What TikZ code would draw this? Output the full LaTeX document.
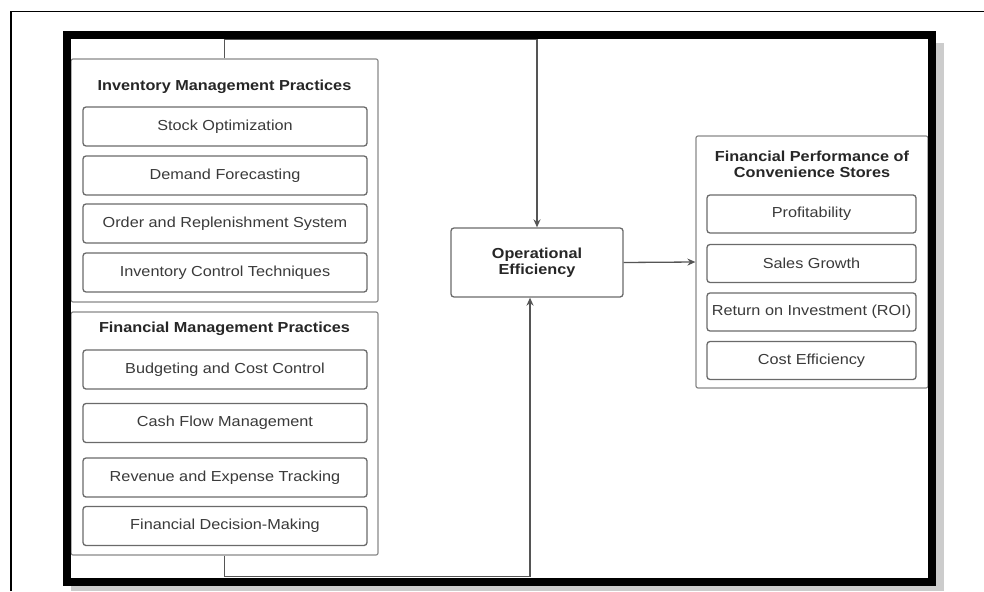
\documentclass[tikz,border=0pt]{standalone}
\usepackage{fontspec}
\setmainfont{Liberation Sans}[FakeStretch=1.12]
\usetikzlibrary{arrows.meta}
\definecolor{boxline}{HTML}{8A8A8A}
\definecolor{subline}{HTML}{6A6A6A}
\definecolor{txt}{HTML}{3A3A3A}
\definecolor{conncol}{HTML}{555555}
\begin{document}
\begin{tikzpicture}[x=1pt,y=-1pt,
  container/.style={draw=boxline,line width=1.2pt,rounded corners=2pt,fill=white,minimum width=307pt,minimum height=243pt,inner sep=0pt},
  subbox/.style={draw=subline,line width=1.3pt,rounded corners=3pt,fill=white,minimum width=284pt,minimum height=39pt,inner sep=0pt,text=txt,font=\fontsize{14.5}{16}\selectfont},
  psub/.style={subbox,minimum width=209pt,minimum height=38pt},
  title/.style={inner sep=0pt,align=center,text=black!85,font=\bfseries\fontsize{14.5}{15.5}\selectfont},
  conn/.style={draw=conncol,line width=1.3pt},
  tip/.style={-{Stealth[length=8pt,width=7pt]}}
]
\useasboundingbox (0,0) rectangle (984,591);
\fill[white] (0,0) rectangle (984,591);
% outer thin border (cropped)
\draw[line width=1.8pt] (11,591) -- (11,11.5) -- (984,11.5);

% connector corners
\coordinate (t1) at (224.5,39.5);
\coordinate (t2) at (537,39.5);
\coordinate (b1) at (224.5,576.5);
\coordinate (b2) at (530,576.5);

% left containers
\node[container] (inv) at (224.5,180.5) {};
\node[title] (invt) at (224.5,87) {Inventory Management Practices};
\node[subbox] (s1) at (225,126.5) {Stock Optimization};
\node[subbox] (s2) at (225,175.5) {Demand Forecasting};
\node[subbox] (s3) at (225,223.5) {Order and Replenishment System};
\node[subbox] (s4) at (225,272.5) {Inventory Control Techniques};

\node[container] (fin) at (224.5,433.5) {};
\node[title] (fint) at (224.5,329) {Financial Management Practices};
\node[subbox] (f1) at (225,369.5) {Budgeting and Cost Control};
\node[subbox] (f2) at (225,423) {Cash Flow Management};
\node[subbox] (f3) at (225,477.5) {Revenue and Expense Tracking};
\node[subbox] (f4) at (225,526) {Financial Decision-Making};

% operational efficiency
\node[draw=subline,line width=1.3pt,rounded corners=3pt,fill=white,minimum width=172pt,minimum height=69pt,inner sep=0pt,align=center,text=black!85,font=\bfseries\fontsize{14.5}{16}\selectfont] (op) at (537,262.5) {Operational\\Efficiency};

% right container
\node[container,minimum width=232pt,minimum height=252pt] (perf) at (812,262) {};
\node[title] (perft) at (812,164.5) {Financial Performance of\\Convenience Stores};
\node[psub] (p1) at (811.5,214) {Profitability};
\node[psub] (p2) at (811.5,263.5) {Sales Growth};
\node[psub] (p3) at (811.5,312) {Return on Investment (ROI)};
\node[psub] (p4) at (811.5,360.5) {Cost Efficiency};

% connectors
\draw[conn,tip] (inv.north) -- (t1) -- (t2) -- (op.north);
\draw[conn,tip] (fin.south) -- (b1) -- (b2) -- (b2 |- op.south);
\draw[conn,tip] (op.east) -- (perf.west);

% thick frame with shadow
\fill[gray!40] (936,43) rectangle (944,591);
\fill[gray!40] (71,586) rectangle (944,591);
\draw[line width=8pt] (67,35) rectangle (932,582);
\end{tikzpicture}
\end{document}
